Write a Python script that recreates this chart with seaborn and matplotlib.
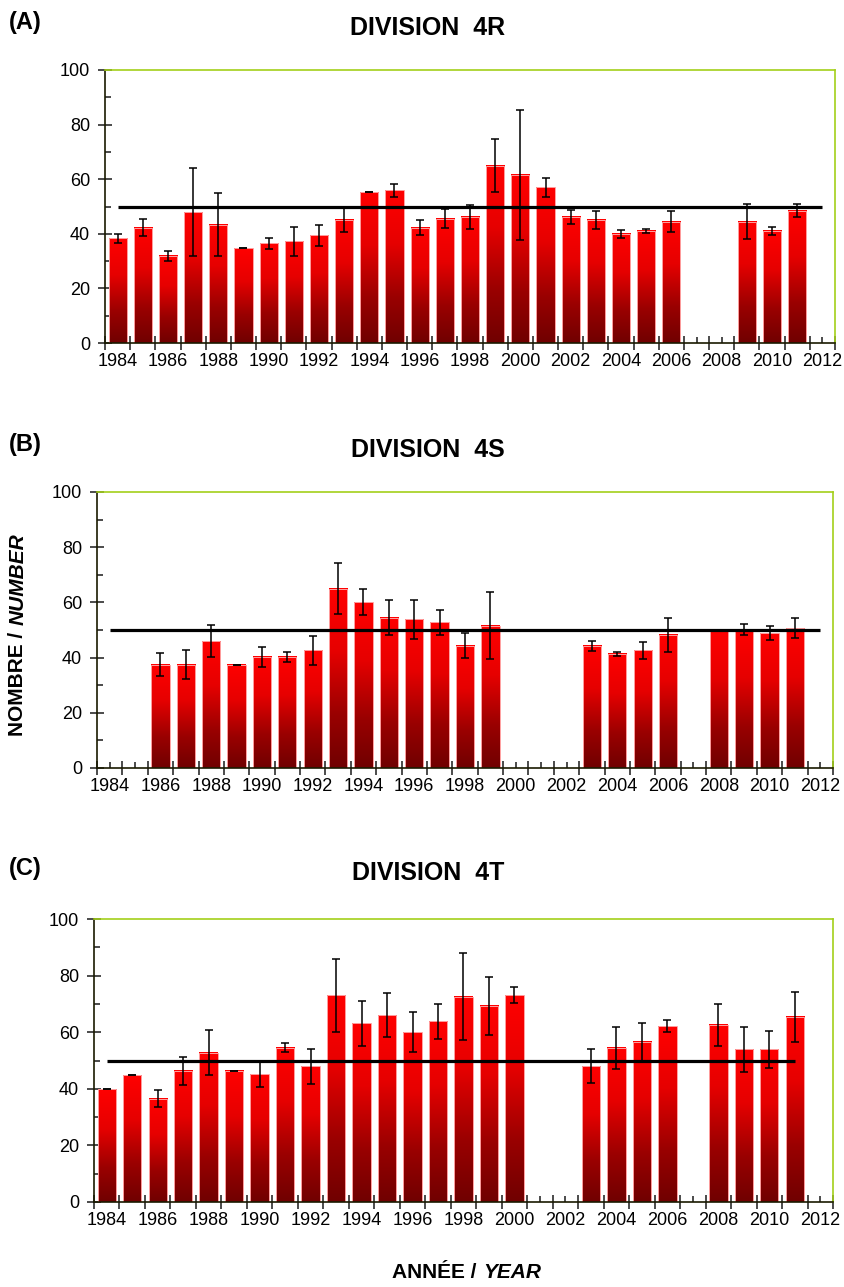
import numpy as np
import pandas as pd
import matplotlib
matplotlib.use("Agg")
import matplotlib.pyplot as plt
from matplotlib.colors import LinearSegmentedColormap
from matplotlib.ticker import FixedLocator, FixedFormatter, NullFormatter
import seaborn as sns

# ---------------- data ----------------
years = list(range(1984, 2012))
nan = np.nan

div4r_values = [38.3, 42.3, 31.9, 47.9, 43.4, 34.7, 36.6, 37.2, 39.4, 45.1,
                55.3, 55.9, 42.3, 45.6, 46.2, 65.0, 61.6, 57.1, 46.2, 45.1,
                40.0, 41.1, 44.5, nan, nan, 44.5, 41.1, 48.5]
div4r_errors = [1.8, 3.2, 1.7, 16.2, 11.4, 0.0, 2.0, 5.4, 3.7, 4.5,
                0.0, 2.3, 2.6, 3.5, 4.5, 9.8, 23.9, 3.5, 2.6, 3.4,
                1.5, 0.8, 3.7, nan, nan, 6.5, 1.5, 2.3]

div4s_values = [nan, nan, 37.5, 37.5, 46.0, 37.5, 40.3, 40.3, 42.6, 65.0,
                60.0, 54.5, 53.9, 52.8, 44.3, 51.6, nan, nan, nan, 44.3,
                41.4, 42.6, 48.2, nan, 49.9, 50.2, 48.8, 50.6]
div4s_errors = [nan, nan, 4.3, 5.4, 5.9, 0.0, 3.6, 1.9, 5.1, 9.3,
                4.7, 6.2, 7.1, 4.5, 4.5, 12.1, nan, nan, nan, 1.75,
                0.7, 3.1, 6.2, nan, 0.0, 2.0, 2.5, 3.6]

div4t_values = [39.8, 44.7, 36.5, 46.3, 52.8, 46.3, 45.2, 54.5, 47.9, 73.1,
                63.2, 66.0, 60.0, 63.8, 72.6, 69.3, 73.1, nan, nan, 47.9,
                54.5, 56.7, 62.1, nan, 62.7, 54.0, 54.0, 65.4]
div4t_errors = [0.0, 0.0, 3.0, 5.0, 8.0, 0.0, 4.4, 1.6, 6.3, 12.9,
                8.0, 7.8, 7.1, 6.3, 15.4, 10.2, 2.8, nan, nan, 6.0,
                7.4, 6.7, 2.2, nan, 7.4, 8.0, 6.6, 8.9]

reference_value = 50
reference_start = [1984, 1984, 1984]
reference_end = [2012, 2012, 2011]

panel_letters = ["(A)", "(B)", "(C)"]
panel_titles = ["DIVISION  4R", "DIVISION  4S", "DIVISION  4T"]
ylabel_fr, ylabel_en = "NOMBRE /", "NUMBER"
xlabel_fr, xlabel_en = "ANNÉE /", "YEAR"
axis_years = list(range(1984, 2013))
ytick_values = [0, 20, 40, 60, 80, 100]

# ---------------- style ----------------
sns.set_theme(style="white")
FONT = ["Liberation Sans Narrow", "Liberation Sans", "DejaVu Sans"]
plt.rcParams["font.family"] = FONT
plt.rcParams["text.color"] = "black"
plt.rcParams["xtick.color"] = "black"
plt.rcParams["ytick.color"] = "black"

W, H = 845, 1287
fig = plt.figure(figsize=(W / 100, H / 100), dpi=100)

# axes rectangles in pixels (left, top, right, bottom)
rects_px = [(105, 70, 835, 343), (97, 492, 833, 768), (94, 919, 833, 1202)]
letter_y = [22, 444, 868]
title_y = [28, 450, 873]

cmap = LinearSegmentedColormap.from_list(
    "redgrad", [(0.0, "#700000"), (0.3, "#9a0000"), (0.65, "#e60000"), (1.0, "#ff0000")])
grad = np.linspace(0, 1, 256).reshape(-1, 1)

green = "#a3cf1a"
series = [(div4r_values, div4r_errors), (div4s_values, div4s_errors),
          (div4t_values, div4t_errors)]

for i, ((vals, errs), (l, t, r, b)) in enumerate(zip(series, rects_px)):
    ax = fig.add_axes([l / W, 1 - b / H, (r - l) / W, (b - t) / H])
    df = pd.DataFrame({"year": years, "value": vals, "err": errs}).dropna()
    sns.barplot(data=df, x="year", y="value", native_scale=True, width=0.72,
                color="#ff0000", errorbar=None, ax=ax, zorder=2)
    ax.set_xlim(1983.5, 2012.5)
    ax.set_ylim(0, 100)
    for p in list(ax.patches):
        x0, y0 = p.get_x(), p.get_y()
        w, h = p.get_width(), p.get_height()
        if not np.isfinite(h) or h <= 0:
            continue
        ax.imshow(grad, extent=[x0, x0 + w, y0, y0 + h], origin="lower",
                  aspect="auto", cmap=cmap, zorder=2.1, interpolation="bilinear")
        p.set_facecolor("none")
        p.set_edgecolor("#ffa0a0")
        p.set_linewidth(0.7)
        p.set_zorder(2.2)
    ax.set_xlim(1983.5, 2012.5)
    ax.set_ylim(0, 100)

    ax.errorbar(df["year"], df["value"], yerr=df["err"], fmt="none",
                ecolor="black", elinewidth=1.1, capsize=2.6, capthick=1.1,
                zorder=3)
    ax.hlines(reference_value, reference_start[i], reference_end[i],
              color="black", linewidth=2.3, zorder=4)

    # spines
    for s in ["top", "right"]:
        ax.spines[s].set_color(green)
        ax.spines[s].set_linewidth(1.2)
    for s in ["left", "bottom"]:
        ax.spines[s].set_color("#1a1a00")
        ax.spines[s].set_linewidth(1.2)
    for s in ax.spines.values():
        s.set_zorder(5)

    # x ticks: boundaries (major, crossing), centres (minor, labelled)
    ax.xaxis.set_major_locator(FixedLocator([y - 0.5 for y in axis_years] + [2012.5]))
    ax.xaxis.set_major_formatter(NullFormatter())
    ax.xaxis.set_minor_locator(FixedLocator(axis_years))
    ax.xaxis.set_minor_formatter(FixedFormatter(
        [str(y) if y % 2 == 0 else "" for y in axis_years]))
    ax.tick_params(axis="x", which="major", direction="inout", length=9.5,
                   width=1.1, color="#1a1a1a", bottom=True)
    ax.tick_params(axis="x", which="minor", direction="in", length=4.5,
                   width=1.1, color="#1a1a1a", bottom=True, labelsize=13,
                   pad=7, labelcolor="black")

    ax.yaxis.set_major_locator(FixedLocator(ytick_values))
    ax.set_yticklabels([str(v) for v in ytick_values])
    ax.yaxis.set_minor_locator(FixedLocator([10, 30, 50, 70, 90]))
    ax.tick_params(axis="y", which="major", direction="inout", length=9.5,
                   width=1.1, color="#1a1a1a", left=True, labelsize=13,
                   pad=6, labelcolor="black")
    ax.tick_params(axis="y", which="minor", direction="in", length=4,
                   width=1.1, color="#1a1a1a", left=True)
    ax.set_xlabel("")
    ax.set_ylabel("")
    ax.grid(False)

    fig.text(25 / W, 1 - letter_y[i] / H, panel_letters[i], ha="center",
             va="center", fontsize=17, fontweight="bold")
    fig.text(428 / W, 1 - title_y[i] / H, panel_titles[i], ha="center",
             va="center", fontsize=18, fontweight="bold")

# axis titles: bold French part + bold italic English part, measured to sit side by side
renderer = fig.canvas.get_renderer()
gap = 7

yl1 = fig.text(0, 0, ylabel_fr, rotation=90, ha="center", va="bottom",
               fontsize=15, fontweight="bold")
yl2 = fig.text(0, 0, ylabel_en, rotation=90, ha="center", va="bottom",
               fontsize=15, fontweight="bold", style="italic")
h1 = yl1.get_window_extent(renderer).height
h2 = yl2.get_window_extent(renderer).height
ycen = H - 635
ybot = ycen - (h1 + gap + h2) / 2
yl1.set_position((18 / W, ybot / H))
yl2.set_position((18 / W, (ybot + h1 + gap) / H))

xl1 = fig.text(0, 0, xlabel_fr, ha="left", va="center", fontsize=15,
               fontweight="bold")
xl2 = fig.text(0, 0, xlabel_en, ha="left", va="center", fontsize=15,
               fontweight="bold", style="italic")
w1 = xl1.get_window_extent(renderer).width
w2 = xl2.get_window_extent(renderer).width
xcen = 467
xleft = xcen - (w1 + gap + w2) / 2
xl1.set_position((xleft / W, 1 - 1273 / H))
xl2.set_position(((xleft + w1 + gap) / W, 1 - 1273 / H))

fig.savefig("out.png", dpi=100)
